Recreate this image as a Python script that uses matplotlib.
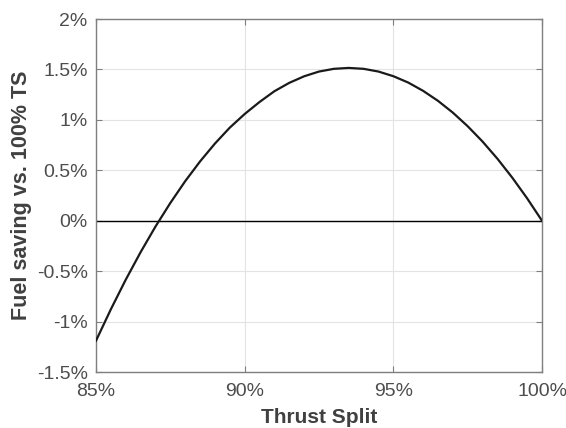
import matplotlib
matplotlib.use("Agg")
import matplotlib.pyplot as plt
from matplotlib.ticker import FuncFormatter

thrust_split = [85.0, 85.5, 86.0, 86.5, 87.0, 87.5, 88.0, 88.5, 89.0, 89.5,
                90.0, 90.5, 91.0, 91.5, 92.0, 92.5, 93.0, 93.5, 94.0, 94.5,
                95.0, 95.5, 96.0, 96.5, 97.0, 97.5, 98.0, 98.5, 99.0, 99.5, 100.0]
fuel_saving = [-1.190, -0.878, -0.585, -0.312, -0.058, 0.176, 0.392, 0.588,
               0.765, 0.923, 1.058, 1.177, 1.284, 1.367, 1.432, 1.479, 1.506,
               1.515, 1.506, 1.479, 1.433, 1.370, 1.288, 1.189, 1.072, 0.937,
               0.785, 0.615, 0.427, 0.222, 0.000]
x_ticks = [85, 90, 95, 100]
y_ticks = [-1.5, -1, -0.5, 0, 0.5, 1, 1.5, 2]

plt.rcParams['font.family'] = ['Liberation Sans', 'DejaVu Sans']

fig = plt.figure(figsize=(5.66, 4.28), dpi=100)
ax = fig.add_axes([0.1696, 0.1308, 0.9576 - 0.1696, 0.9556 - 0.1308])

ax.axhline(0, color='black', linewidth=1.0, zorder=2)
ax.plot(thrust_split, fuel_saving, color='#1a1a1a', linewidth=1.6, zorder=3)

ax.set_xlim(85, 100)
ax.set_ylim(-1.5, 2)
ax.set_xticks(x_ticks)
ax.set_yticks(y_ticks)

def fmt(v, pos):
    return ('%g' % v) + '%'

ax.xaxis.set_major_formatter(FuncFormatter(fmt))
ax.yaxis.set_major_formatter(FuncFormatter(fmt))

ax.grid(True, color='#e3e3e3', linewidth=0.8, zorder=0)
ax.set_axisbelow(True)
for s in ax.spines.values():
    s.set_color('#7f7f7f')
    s.set_linewidth(1.0)
ax.tick_params(direction='in', length=4, width=0.8, color='#7f7f7f',
               labelsize=14, labelcolor='#4d4d4d', top=True, right=True)
ax.tick_params(axis='x', pad=8)
ax.tick_params(axis='y', pad=6)

ax.set_xlabel('Thrust Split', fontsize=15, fontweight='bold', color='#404040', labelpad=6)
ax.set_ylabel('Fuel saving vs. 100% TS', fontsize=15.5, fontweight='bold', color='#404040', labelpad=3)

fig.savefig('out.png', dpi=100)
